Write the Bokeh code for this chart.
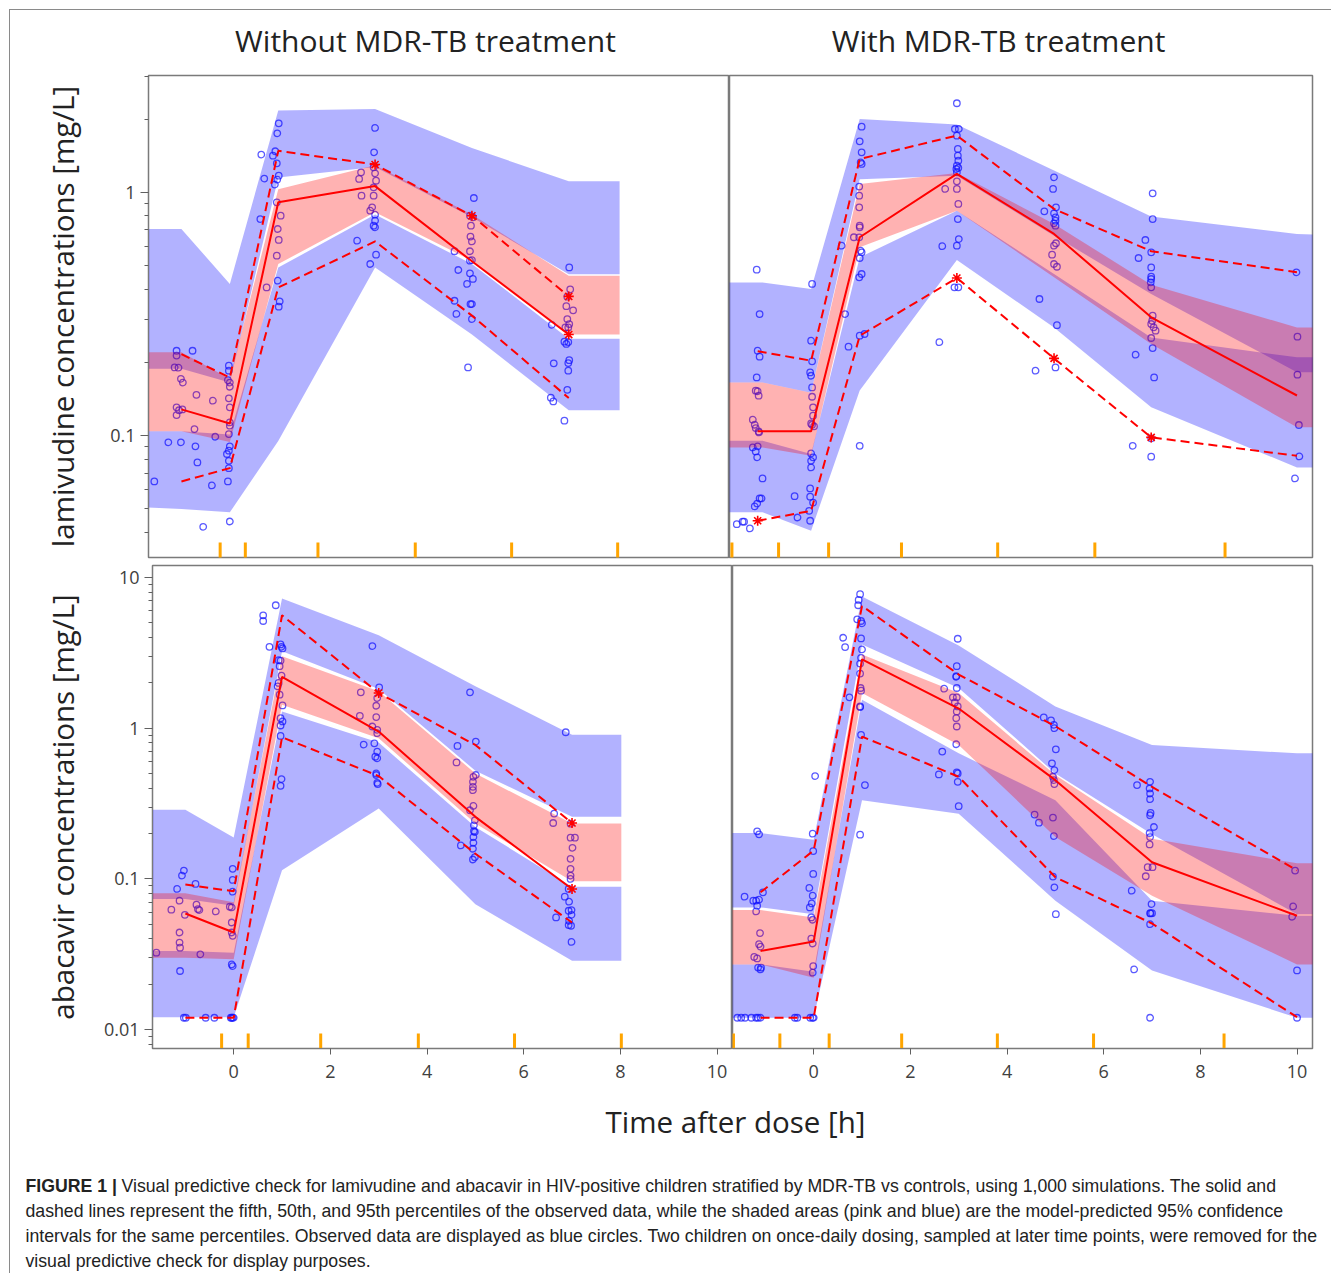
from bokeh.plotting import figure
from bokeh.layouts import column, row
from bokeh.models import Range1d, FixedTicker, CustomJSTickFormatter
from bokeh.embed import file_html
from bokeh.resources import INLINE
from bokeh.core.properties import value

FONT = "Open Sans"
TXT = "#222222"

# ---------------------------------------------------------------- axes
X_RANGE = (-1.68, 10.32)
Y_RANGE_LAM = (0.0315, 3.02)
Y_RANGE_ABC = (0.0075, 12.0)
X_TICKS = [0, 2, 4, 6, 8, 10]
LAM_TICKS = [0.1, 1]
LAM_MINOR = [0.04, 0.05, 0.06, 0.07, 0.08, 0.09, 0.2, 0.3, 0.4, 0.5, 0.6, 0.7, 0.8, 0.9, 2, 3]
ABC_TICKS = [0.01, 0.1, 1, 10]
ABC_MINOR = [0.008, 0.009, 0.02, 0.03, 0.04, 0.05, 0.06, 0.07, 0.08, 0.09,
             0.2, 0.3, 0.4, 0.5, 0.6, 0.7, 0.8, 0.9, 2, 3, 4, 5, 6, 7, 8, 9]

# ---------------------------------------------------------------- lamivudine, without MDR-TB treatment
lam_wo_pred_t = [-1.7, -1.0, 0.0, 1.0, 3.0, 5.0, 7.0, 8.05]
lam_wo_p95_hi = [0.706, 0.706, 0.42, 2.17, 2.2, 1.52, 1.11, 1.11]
lam_wo_p95_lo = [0.188, 0.188, 0.165, 1.15, 1.27, 0.79, 0.46, 0.46]
lam_wo_p50_hi = [0.22, 0.22, 0.171, 1.03, 1.29, 0.81, 0.454, 0.454]
lam_wo_p50_lo = [0.104, 0.104, 0.094, 0.507, 0.827, 0.523, 0.26, 0.26]
lam_wo_p05_hi = [0.104, 0.104, 0.101, 0.49, 0.81, 0.507, 0.25, 0.25]
lam_wo_p05_lo = [0.0506, 0.0498, 0.0483, 0.095, 0.49, 0.26, 0.127, 0.127]
lam_wo_obs_t = [-1.0, 0.0, 1.0, 3.0, 5.0, 7.0]
lam_wo_obs50 = [0.128, 0.112, 0.91, 1.06, 0.52, 0.26]
lam_wo_obs95 = [0.216, 0.173, 1.48, 1.3, 0.8, 0.373]
lam_wo_obs05 = [0.0647, 0.0734, 0.406, 0.628, 0.311, 0.1425]
lam_wo_out50 = [0, 0, 0, 0, 0, 1]
lam_wo_out95 = [0, 0, 0, 1, 1, 1]
lam_wo_out05 = [0, 0, 0, 0, 0, 0]
lam_wo_bins = [-0.2, 0.32, 1.82, 3.83, 5.82, 8.01]
lam_wo_time = [-1.56, -1.27, -1.01, -1.10, -1.10, -0.77, -1.14, -1.06, -1.01, -0.97, -0.69, -0.35,
               -1.10, -1.05, -0.98, -1.10, -0.73, -0.71, -0.67, -0.55, -0.37, -0.30,
               -0.02, -0.02, -0.04, 0.0, 0.0, -0.02, 0.0, 0.0, 0.0, -0.02, 0.0, -0.02, -0.06, -0.02, -0.02, -0.04, 0.0,
               0.65, 0.71, 0.63, 0.76, 0.89, 0.94, 0.98, 1.01, 0.97, 1.01, 0.98, 0.93, 0.97, 1.05, 0.99, 1.01, 0.97, 0.99, 1.03, 1.01,
               3.0, 2.98, 2.71, 2.67, 2.97, 3.0, 3.02, 2.97, 2.72, 2.97, 2.94, 2.90, 3.0, 3.0, 2.97, 3.0, 2.63, 3.02, 2.90,
               5.04, 4.96, 5.02, 4.98, 4.97, 5.0, 4.96, 4.64, 4.96, 5.0, 4.72, 4.96, 5.02, 4.90, 4.97, 5.0, 4.64, 4.68, 5.0, 4.92,
               7.01, 7.03, 6.97, 6.95, 7.09, 6.97, 7.01, 6.99, 6.93, 6.65, 6.91, 6.99, 6.95, 7.01, 6.99, 6.69, 6.99, 6.97, 6.63, 6.68, 6.91]
lam_wo_conc = [0.0647, 0.0937, 0.0937, 0.223, 0.213, 0.223, 0.1905, 0.19, 0.171, 0.165, 0.147, 0.139,
               0.1305, 0.127, 0.128, 0.1213, 0.1062, 0.0902, 0.0775, 0.0421, 0.0623, 0.0988,
               0.1936, 0.1846, 0.169, 0.165, 0.1586, 0.1421, 0.1305, 0.1132, 0.1097, 0.1013, 0.0902, 0.0866, 0.0839, 0.0787, 0.0734, 0.0647, 0.0443,
               1.428, 1.138, 0.776, 0.406, 1.414, 1.474, 1.747, 1.921, 1.315, 1.17, 1.127, 1.075, 0.909, 0.801, 0.706, 0.6365, 0.5485, 0.4329, 0.3559, 0.3384,
               1.838, 1.46, 1.208, 1.134, 1.266, 1.196, 1.116, 1.048, 0.968, 0.968, 0.867, 0.84, 0.809, 0.764, 0.729, 0.7175, 0.6324, 0.5537, 0.507,
               0.947, 0.801, 0.789, 0.729, 0.657, 0.628, 0.572, 0.572, 0.523, 0.526, 0.479, 0.464, 0.44, 0.42, 0.347, 0.347, 0.358, 0.316, 0.301, 0.1905,
               0.491, 0.399, 0.372, 0.34, 0.327, 0.301, 0.287, 0.278, 0.278, 0.285, 0.243, 0.242, 0.238, 0.204, 0.1985, 0.198, 0.1846, 0.154, 0.143, 0.138, 0.115]

# ---------------------------------------------------------------- lamivudine, with MDR-TB treatment
lam_w_pred_t = [-1.7, -1.0, 0.0, 1.0, 3.0, 5.0, 7.0, 10.0, 10.4]
lam_w_p95_hi = [0.426, 0.426, 0.40, 2.0, 1.9, 1.23, 0.794, 0.674, 0.67]
lam_w_p95_lo = [0.165, 0.165, 0.15, 1.13, 1.17, 0.663, 0.382, 0.182, 0.182]
lam_w_p50_hi = [0.165, 0.165, 0.15, 1.08, 1.2, 0.74, 0.417, 0.278, 0.278]
lam_w_p50_lo = [0.0893, 0.0893, 0.0825, 0.594, 0.84, 0.447, 0.238, 0.108, 0.108]
lam_w_p05_hi = [0.0952, 0.0952, 0.0839, 0.54, 0.84, 0.461, 0.253, 0.2095, 0.2095]
lam_w_p05_lo = [0.0483, 0.0483, 0.0406, 0.153, 0.527, 0.278, 0.1305, 0.0739, 0.0739]
lam_w_obs_t = [-1.1, 0.0, 1.0, 3.0, 5.0, 7.0, 10.0]
lam_w_obs50 = [0.104, 0.104, 0.653, 1.19, 0.674, 0.306, 0.146]
lam_w_obs95 = [0.222, 0.203, 1.37, 1.71, 0.854, 0.572, 0.469]
lam_w_obs05 = [0.0446, 0.049, 0.257, 0.444, 0.2075, 0.0982, 0.0825]
lam_w_out50 = [0, 0, 0, 0, 0, 0, 0]
lam_w_out95 = [0, 0, 0, 0, 0, 0, 0]
lam_w_out05 = [1, 0, 0, 1, 1, 1, 0]
lam_w_bins = [-1.63, -0.67, 0.36, 1.86, 3.84, 5.84, 8.52]
lam_w_time = [-1.12, -1.06, -1.10, -1.06, -1.12, -1.14, -1.10, -1.08, -1.20, -1.16, -1.14, -1.08, -1.07, -1.20,
              -1.10, -1.14, -1.11, -1.00, -1.06, -1.02, -1.11, -1.16, -1.53, -1.41, -1.38, -1.26, -0.28, -0.34,
              0.02, 0.0, 0.02, -0.02, 0.0, 0.02, 0.02, 0.04, 0.04, 0.0, 0.02, 0.06, 0.0, 0.04, 0.0, 0.0, -0.02, -0.02, 0.04, -0.04, -0.02,
              0.63, 0.70, 0.77, 1.0, 0.99, 1.04, 1.0, 1.04, 1.02, 0.99, 1.0, 1.0, 0.88, 0.99, 0.99, 0.99, 1.04, 1.02, 1.04, 1.0, 1.04, 1.0, 1.10,
              3.0, 2.96, 3.04, 3.0, 3.02, 3.02, 3.03, 3.0, 2.99, 3.03, 3.0, 3.0, 2.76, 3.0, 3.03, 3.02, 3.04, 3.0, 2.70, 2.64, 2.95, 3.03,
              5.0, 4.98, 5.04, 4.80, 5.0, 5.03, 5.03, 5.0, 5.03, 5.04, 5.0, 4.96, 5.0, 5.06, 4.70, 5.06, 4.62, 5.03,
              7.03, 7.03, 6.88, 6.74, 7.0, 7.0, 7.0, 7.0, 6.99, 7.0, 7.03, 7.02, 7.0, 7.09, 7.05, 7.0, 7.03, 6.68, 7.06, 6.62, 7.0, 7.0,
              9.99, 10.01, 10.01, 10.04, 10.05, 9.96]
lam_w_conc = [0.4805, 0.3157, 0.2232, 0.2108, 0.1733, 0.1528, 0.152, 0.1457, 0.1161, 0.1107, 0.1073, 0.1039, 0.1029, 0.0893,
              0.0902, 0.086, 0.0813, 0.0666, 0.0551, 0.0551, 0.0525, 0.0511, 0.0432, 0.0442, 0.0442, 0.0415, 0.046, 0.0563,
              0.42, 0.2453, 0.2017, 0.1817, 0.176, 0.1576, 0.1443, 0.1305, 0.1206, 0.1121, 0.1107, 0.109, 0.0844, 0.0813, 0.0787, 0.0739, 0.0606, 0.056, 0.053, 0.049, 0.0446,
              0.603, 0.3157, 0.2317, 0.0907, 0.4468, 0.4612, 0.5366, 0.5662, 0.5751, 0.6529, 0.7175, 0.729, 0.653, 0.867, 0.968, 1.055, 1.307, 1.328, 1.46, 1.62, 1.861, 0.2572, 0.2614,
              2.322, 1.82, 1.82, 1.709, 1.507, 1.414, 1.349, 1.286, 1.246, 1.26, 1.208, 1.109, 1.032, 1.032, 0.895, 0.776, 0.642, 0.603, 0.6, 0.2418, 0.4064, 0.4064,
              1.152, 1.032, 0.867, 0.835, 0.819, 0.789, 0.764, 0.745, 0.729, 0.617, 0.603, 0.554, 0.507, 0.494, 0.364, 0.284, 0.1846, 0.1905,
              0.99, 0.776, 0.6365, 0.5366, 0.5662, 0.491, 0.4497, 0.4398, 0.4263, 0.4064, 0.3108, 0.2963, 0.2873, 0.2697, 0.2783, 0.2516, 0.2288, 0.2148, 0.1733, 0.0907, 0.0973, 0.0818,
              0.4685, 0.2548, 0.1778, 0.1104, 0.082, 0.0666]

# ---------------------------------------------------------------- abacavir, without MDR-TB treatment
abc_wo_pred_t = [-1.7, -1.0, 0.0, 1.0, 3.0, 5.0, 7.0, 8.02]
abc_wo_p95_hi = [0.288, 0.288, 0.188, 7.24, 4.13, 1.9, 0.903, 0.903]
abc_wo_p95_lo = [0.0736, 0.0736, 0.0664, 3.24, 1.82, 0.522, 0.258, 0.258]
abc_wo_p50_hi = [0.0802, 0.0802, 0.07, 3.0, 1.76, 0.501, 0.233, 0.233]
abc_wo_p50_lo = [0.030, 0.030, 0.0293, 1.43, 0.858, 0.233, 0.0965, 0.0965]
abc_wo_p05_hi = [0.0333, 0.0333, 0.0324, 1.29, 0.802, 0.221, 0.0889, 0.0889]
abc_wo_p05_lo = [0.0121, 0.0121, 0.0121, 0.114, 0.293, 0.068, 0.0286, 0.0286]
abc_wo_obs_t = [-1.0, 0.0, 1.0, 3.0, 5.0, 7.0]
abc_wo_obs50 = [0.059, 0.0441, 2.19, 0.95, 0.258, 0.0858]
abc_wo_obs95 = [0.0917, 0.0828, 5.61, 1.71, 0.774, 0.235]
abc_wo_obs05 = [0.012, 0.012, 0.871, 0.481, 0.147, 0.0514]
abc_wo_out50 = [0, 0, 0, 0, 0, 1]
abc_wo_out95 = [0, 0, 0, 1, 0, 1]
abc_wo_out05 = [0, 0, 0, 0, 0, 0]
abc_wo_bins = [-0.25, 0.30, 1.80, 3.82, 5.81, 8.02]
abc_wo_time = [-1.60, -1.17, -1.12, -1.12, -1.12, -1.11, -1.11, -1.07, -1.03, -1.01, -0.79, -0.77, -0.74, -0.71,
               -0.69, -1.29, -0.37, -1.03, -0.99, -0.58, -0.40,
               -0.02, -0.02, -0.02, -0.08, -0.04, -0.04, -0.04, -0.02, -0.04, -0.02, -0.06, -0.02, 0.0, -0.04,
               0.61, 0.61, 0.87, 0.74, 0.97, 0.99, 1.01, 0.93, 0.97, 0.95, 0.99, 0.93, 0.91, 0.95, 1.01, 0.97, 1.01, 0.97, 0.97, 0.99, 0.97,
               2.87, 3.01, 2.63, 2.97, 2.95, 2.95, 2.61, 2.87, 2.97, 2.97, 2.91, 2.69, 2.97, 2.93, 2.97, 2.95, 2.95, 2.97, 2.98,
               4.89, 5.01, 4.63, 4.61, 5.01, 4.96, 4.95, 4.95, 4.95, 4.96, 4.89, 4.99, 4.97, 4.97, 4.99, 4.96, 4.96, 4.70, 4.95, 4.95, 4.99,
               6.87, 6.63, 6.61, 6.97, 6.97, 7.06, 7.01, 6.97, 6.97, 6.97, 6.97, 6.93, 6.85, 6.94, 6.93, 6.99, 6.99, 6.67, 6.94, 6.93, 6.98, 6.99]
abc_wo_conc = [0.0324, 0.0858, 0.0717, 0.0441, 0.0378, 0.035, 0.0245, 0.1052, 0.1136, 0.0578, 0.0926, 0.0675, 0.0631, 0.0621,
               0.0316, 0.0625, 0.0609, 0.012, 0.012, 0.012, 0.012,
               0.1166, 0.0985, 0.0823, 0.0654, 0.0647, 0.0514, 0.0441, 0.0419, 0.0271, 0.0264, 0.012, 0.012, 0.012, 0.012,
               5.61, 5.14, 6.54, 3.467, 3.594, 3.467, 3.38, 2.826, 2.81, 2.577, 2.233, 1.995, 1.896, 1.668, 1.416, 1.166, 1.108, 1.042, 0.889, 0.4594, 0.4148,
               3.503, 1.867, 1.728, 1.585, 1.409, 1.184, 1.208, 1.026, 0.975, 0.926, 0.794, 0.778, 0.699, 0.647, 0.631, 0.501, 0.489, 0.434, 0.4255,
               1.728, 0.815, 0.763, 0.593, 0.489, 0.476, 0.441, 0.408, 0.388, 0.305, 0.2855, 0.2448, 0.2268, 0.2078, 0.2047, 0.1896, 0.1738, 0.1668, 0.1585, 0.1345, 0.1394,
               0.94, 0.2712, 0.235, 0.2326, 0.1877, 0.1877, 0.1609, 0.136, 0.1166, 0.1052, 0.1, 0.0858, 0.0763, 0.0706, 0.0615, 0.0621, 0.0578, 0.0555, 0.0528, 0.0494, 0.0489, 0.0382]

# ---------------------------------------------------------------- abacavir, with MDR-TB treatment
abc_w_pred_t = [-1.7, -1.1, 0.0, 1.0, 3.0, 5.0, 7.0, 10.0, 10.4]
abc_w_p95_hi = [0.2016, 0.2016, 0.182, 7.47, 3.54, 1.395, 0.774, 0.681, 0.681]
abc_w_p95_lo = [0.0647, 0.0647, 0.0584, 3.59, 1.85, 0.501, 0.1975, 0.0584, 0.0584]
abc_w_p50_hi = [0.0621, 0.0621, 0.0555, 3.08, 1.71, 0.489, 0.185, 0.127, 0.127]
abc_w_p50_lo = [0.0271, 0.0271, 0.0221, 1.71, 0.774, 0.19, 0.0774, 0.0271, 0.0271]
abc_w_p05_hi = [0.0271, 0.0271, 0.0242, 1.545, 0.681, 0.333, 0.0717, 0.057, 0.057]
abc_w_p05_lo = [0.012, 0.012, 0.012, 0.333, 0.271, 0.0717, 0.0247, 0.012, 0.012]
abc_w_obs_t = [-1.1, 0.0, 1.0, 3.0, 5.0, 7.0, 10.0]
abc_w_obs50 = [0.0333, 0.0384, 2.86, 1.35, 0.452, 0.129, 0.057]
abc_w_obs95 = [0.0815, 0.1545, 6.47, 2.27, 1.03, 0.408, 0.114]
abc_w_obs05 = [0.012, 0.012, 0.88, 0.476, 0.1026, 0.0506, 0.0121]
abc_w_out50 = [0, 0, 0, 0, 0, 0, 0]
abc_w_out95 = [0, 0, 0, 0, 0, 0, 0]
abc_w_out05 = [0, 0, 0, 0, 0, 0, 0]
abc_w_bins = [-1.66, -0.70, 0.32, 1.82, 3.80, 5.79, 8.49]
abc_w_time = [-1.58, -1.50, -1.42, -1.29, -1.19, -1.15, -1.10, -1.17, -1.13, -1.05, -1.43, -1.25, -1.19, -1.13,
              -1.17, -1.19, -1.11, -1.13, -1.10, -1.23, -1.17, -1.15, -1.10, -1.09, -0.39, -0.34,
              -0.02, -0.01, -0.01, -0.09, -0.02, -0.04, -0.08, -0.05, -0.02, -0.05, -0.02, -0.01, -0.02, -0.07, -0.02, 0.0, 0.03,
              0.61, 0.65, 0.74, 0.96, 0.93, 0.92, 0.90, 0.98, 1.0, 0.98, 1.0, 0.98, 0.96, 0.96, 0.97, 0.98, 0.96, 0.96, 0.98, 1.06, 0.96,
              2.98, 2.96, 2.95, 2.95, 2.96, 2.70, 2.96, 2.88, 2.92, 2.98, 2.96, 2.95, 2.96, 2.95, 2.66, 2.59, 2.96, 2.98, 2.98, 3.0,
              4.76, 4.91, 4.97, 4.98, 5.01, 4.93, 4.98, 4.95, 4.97, 4.98, 4.57, 4.66, 4.95, 4.97, 4.95, 4.98, 5.01,
              6.96, 6.69, 6.95, 6.96, 6.96, 6.97, 6.96, 7.04, 6.95, 6.96, 6.95, 7.01, 6.91, 6.87, 6.58, 6.99, 6.96, 6.97, 7.0, 6.96, 6.63, 6.96,
              9.96, 9.92, 9.90, 10.0, 10.0]
abc_w_conc = [0.012, 0.012, 0.012, 0.012, 0.012, 0.012, 0.012, 0.2068, 0.1975, 0.0815, 0.0763, 0.0717, 0.0717, 0.0728,
              0.0664, 0.0609, 0.0437, 0.0369, 0.0356, 0.0304, 0.0297, 0.0258, 0.0251, 0.0258, 0.012, 0.012,
              0.1995, 0.1529, 0.108, 0.0871, 0.0774, 0.0688, 0.0647, 0.0555, 0.0536, 0.0402, 0.0373, 0.0264, 0.0239, 0.012, 0.012, 0.012, 0.481,
              3.981, 3.45, 1.601, 7.743, 7.098, 6.54, 5.275, 5.14, 4.961, 3.941, 3.328, 2.929, 2.685, 2.302, 1.848, 1.774, 1.395, 1.38, 0.9028, 0.4193, 0.1965,
              3.92, 2.577, 2.21, 2.19, 1.848, 1.829, 1.601, 1.601, 1.483, 1.395, 1.292, 1.166, 1.026, 0.7823, 0.699, 0.4936, 0.5089, 0.5012, 0.441, 0.3036,
              1.178, 1.125, 1.052, 1.0, 0.7244, 0.5843, 0.5276, 0.4762, 0.4524, 0.4255, 0.2671, 0.2362, 0.2551, 0.1925, 0.1036, 0.088, 0.0584,
              0.441, 0.4193, 0.3981, 0.3687, 0.3381, 0.2741, 0.2644, 0.2211, 0.2016, 0.1896, 0.1694, 0.1196, 0.1196, 0.1042, 0.0836, 0.0681, 0.0593, 0.059, 0.0593, 0.0501, 0.0251, 0.012,
              0.1136, 0.0657, 0.0561, 0.0247, 0.012]

# ---------------------------------------------------------------- texts
col_titles = ["Without MDR-TB treatment", "With MDR-TB treatment"]
row_labels = ["lamivudine concentrations [mg/L]", "abacavir concentrations [mg/L]"]
x_label = "Time after dose [h]"
caption_bold = "FIGURE 1 |"
caption_lines = [
    "Visual predictive check for lamivudine and abacavir in HIV-positive children stratified by MDR-TB vs controls, using 1,000 simulations. The solid and",
    "dashed lines represent the fifth, 50th, and 95th percentiles of the observed data, while the shaded areas (pink and blue) are the model-predicted 95% confidence",
    "intervals for the same percentiles. Observed data are displayed as blue circles. Two children on once-daily dosing, sampled at later time points, were removed for the",
    "visual predictive check for display purposes.",
]

FULL_W = 1321


def text_strip(height):
    """A blank full-width figure (1 data unit = 1 px, y pointing down) that carries free texts."""
    s = figure(width=FULL_W, height=height, x_range=Range1d(0, FULL_W), y_range=Range1d(height, 0),
               x_axis_location=None, y_axis_location=None, min_border=0,
               output_backend="svg", toolbar_location=None)
    s.grid.visible = False
    s.outline_line_color = None
    s.background_fill_color = "white"
    s.border_fill_color = "white"
    return s


def make_panel(width, height, y_rng, borders, show_x, show_y,
               ylabel=None, yticks=None, yminor=None, label_standoff=20):
    bl, br, bt, bb = borders
    p = figure(width=width, height=height,
               x_range=Range1d(*X_RANGE), y_range=Range1d(*y_rng),
               y_axis_type="log",
               x_axis_location="below" if show_x else None,
               y_axis_location="left" if show_y else None,
               min_border_left=bl, min_border_right=br, min_border_top=bt, min_border_bottom=bb,
               output_backend="svg", toolbar_location=None, title=None)
    p.grid.visible = False
    p.background_fill_color = "white"
    p.border_fill_color = "white"
    p.outline_line_color = "#7a7a7a"
    p.outline_line_width = 1.5
    if show_y:
        ax = p.yaxis[0]
        ax.ticker = FixedTicker(ticks=yticks, minor_ticks=yminor)
        ax.formatter = CustomJSTickFormatter(code="return tick.toString();")
        ax.axis_label = ylabel
        ax.axis_label_text_font = FONT
        ax.axis_label_text_font_size = "29.5px"
        ax.axis_label_text_font_style = "normal"
        ax.axis_label_text_color = TXT
        ax.axis_label_standoff = label_standoff
        ax.major_label_text_font = FONT
        ax.major_label_text_font_size = "18px"
        ax.major_label_text_color = "#404040"
        ax.major_label_standoff = 5
        ax.major_tick_out = 8
        ax.major_tick_in = 0
        ax.minor_tick_out = 4
        ax.minor_tick_in = 0
        ax.axis_line_color = "#7a7a7a"
        ax.major_tick_line_color = "#606060"
        ax.minor_tick_line_color = "#606060"
    if show_x:
        ax = p.xaxis[0]
        ax.ticker = FixedTicker(ticks=X_TICKS, minor_ticks=[])
        ax.major_label_text_font = FONT
        ax.major_label_text_font_size = "18px"
        ax.major_label_text_color = "#404040"
        ax.major_label_standoff = 10
        ax.major_tick_out = 6
        ax.major_tick_in = 0
        ax.axis_line_color = "#7a7a7a"
        ax.major_tick_line_color = "#606060"
    return p


def draw_vpc(p, pred_t, p95, p50, p05, obs_t, obs, outside, time, conc, bins, ybottom):
    assert len(time) == len(conc)
    # observed data
    p.scatter(time, conc, marker="circle", size=6.5, fill_color=None,
              line_color="#1a1aff", line_alpha=0.72, line_width=1.3)
    # model-predicted 95% CI of the 95th, 5th and 50th percentiles
    p.varea(x=pred_t, y1=p95[0], y2=p95[1], fill_color="#0000ff", fill_alpha=0.3)
    p.varea(x=pred_t, y1=p05[0], y2=p05[1], fill_color="#0000ff", fill_alpha=0.3)
    p.varea(x=pred_t, y1=p50[0], y2=p50[1], fill_color="#ff0000", fill_alpha=0.3)
    # observed percentiles
    p.line(obs_t, obs[1], line_color="#ff0000", line_width=2)
    p.line(obs_t, obs[0], line_color="#ff0000", line_width=2, line_dash="9 5")
    p.line(obs_t, obs[2], line_color="#ff0000", line_width=2, line_dash="9 5")
    st_x, st_y = [], []
    for series, flags in zip(obs, outside):
        for t, c, f in zip(obs_t, series, flags):
            if f:
                st_x.append(t)
                st_y.append(c)
    if st_x:
        p.scatter(st_x, st_y, marker="asterisk", size=10, line_color="#ff0000", line_width=1.6)
    # bin boundaries
    p.rect(x=bins, y=[ybottom] * len(bins), width=3, height=30,
           width_units="screen", height_units="screen",
           fill_color="#ffa500", line_color=None)


# ---------------------------------------------------------------- column titles
head = text_strip(63)
head.text(x=[415, 988], y=[30, 30], text=col_titles, text_font=value(FONT), text_font_size="30px",
          text_color=TXT, text_align="center", text_baseline="middle")

# ---------------------------------------------------------------- panels
tl = make_panel(719, 488, Y_RANGE_LAM, (138, 0, 2, 4), False, True,
                ylabel=row_labels[0], yticks=LAM_TICKS, yminor=LAM_MINOR, label_standoff=24)
draw_vpc(tl, lam_wo_pred_t, (lam_wo_p95_lo, lam_wo_p95_hi), (lam_wo_p50_lo, lam_wo_p50_hi),
         (lam_wo_p05_lo, lam_wo_p05_hi), lam_wo_obs_t, (lam_wo_obs05, lam_wo_obs50, lam_wo_obs95),
         (lam_wo_out05, lam_wo_out50, lam_wo_out95), lam_wo_time, lam_wo_conc, lam_wo_bins, Y_RANGE_LAM[0])

tr = make_panel(602, 488, Y_RANGE_LAM, (0, 19, 2, 4), False, False)
draw_vpc(tr, lam_w_pred_t, (lam_w_p95_lo, lam_w_p95_hi), (lam_w_p50_lo, lam_w_p50_hi),
         (lam_w_p05_lo, lam_w_p05_hi), lam_w_obs_t, (lam_w_obs05, lam_w_obs50, lam_w_obs95),
         (lam_w_out05, lam_w_out50, lam_w_out95), lam_w_time, lam_w_conc, lam_w_bins, Y_RANGE_LAM[0])

bl = make_panel(722, 531, Y_RANGE_ABC, (142, 0, 4, 44), True, True,
                ylabel=row_labels[1], yticks=ABC_TICKS, yminor=ABC_MINOR, label_standoff=18)
draw_vpc(bl, abc_wo_pred_t, (abc_wo_p95_lo, abc_wo_p95_hi), (abc_wo_p50_lo, abc_wo_p50_hi),
         (abc_wo_p05_lo, abc_wo_p05_hi), abc_wo_obs_t, (abc_wo_obs05, abc_wo_obs50, abc_wo_obs95),
         (abc_wo_out05, abc_wo_out50, abc_wo_out95), abc_wo_time, abc_wo_conc, abc_wo_bins, Y_RANGE_ABC[0])

br = make_panel(599, 531, Y_RANGE_ABC, (0, 19, 4, 44), True, False)
draw_vpc(br, abc_w_pred_t, (abc_w_p95_lo, abc_w_p95_hi), (abc_w_p50_lo, abc_w_p50_hi),
         (abc_w_p05_lo, abc_w_p05_hi), abc_w_obs_t, (abc_w_obs05, abc_w_obs50, abc_w_obs95),
         (abc_w_out05, abc_w_out50, abc_w_out95), abc_w_time, abc_w_conc, abc_w_bins, Y_RANGE_ABC[0])

# ---------------------------------------------------------------- x label + caption
cap = text_strip(181)
cap.text(x=[725], y=[29], text=[x_label], text_font=value(FONT), text_font_size="29.5px",
         text_color=TXT, text_align="center", text_baseline="middle")
cap.text(x=[15], y=[93], text=[caption_bold], text_font=value("Liberation Sans"),
         text_font_size="17.7px", text_font_style="bold", text_color=TXT,
         text_align="left", text_baseline="middle")
cap.text(x=[111, 15, 15, 15], y=[93, 118, 143, 168], text=caption_lines,
         text_font=value("Liberation Sans"), text_font_size="17.7px", text_color=TXT,
         text_align="left", text_baseline="middle")

layout = column(head, row(tl, tr), row(bl, br), cap, margin=(9, 0, 0, 9),
                styles={"border-top": "1px solid #8a8a8a", "border-left": "1px solid #8a8a8a"})

open("out.html", "w").write(file_html(layout, INLINE))
